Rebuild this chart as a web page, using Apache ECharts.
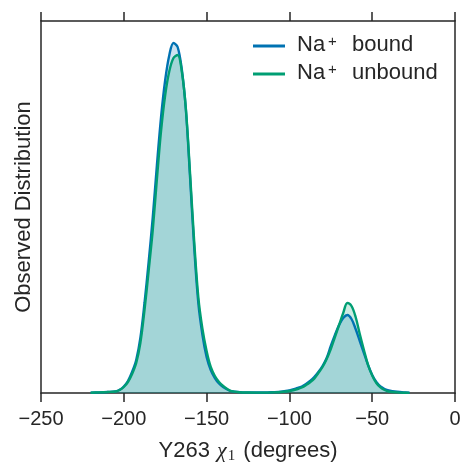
<!DOCTYPE html>
<html>
<head>
<meta charset="utf-8">
<script src="https://cdn.jsdelivr.net/npm/echarts@6/dist/echarts.min.js"></script>
<style>
  html, body { margin: 0; padding: 0; background: #ffffff; }
  #chart { width: 464px; height: 462px; }
</style>
</head>
<body>
<div id="chart"></div>
<script>
// Y263 chi1 dihedral angle (degrees) at which the kernel density is sampled
const angles = [
  -220, -215, -210, -205, -202.5, -200, -197.5, -195, -192.5, -190,
  -187.5, -185, -182.5, -180, -177.5, -175, -172.5, -170, -167.5, -165,
  -162.5, -160, -157.5, -155, -152.5, -150, -147.5, -145, -142.5, -140,
  -137.5, -135, -130, -125, -120, -115, -110, -105, -100, -95,
  -92.5, -90, -87.5, -85, -82.5, -80, -77.5, -75, -72.5, -70,
  -67.5, -65, -62.5, -60, -57.5, -55, -52.5, -50, -47.5, -45,
  -42.5, -40, -35, -30, -27.5
];

// Observed distribution (% of frames per degree), Na+ bound
const boundDensity = [
  0.003, 0.006, 0.010, 0.016, 0.032, 0.065, 0.12, 0.21, 0.33, 0.55,
  0.90, 1.31, 1.76, 2.28, 2.76, 3.13, 3.38, 3.50, 3.46, 3.24,
  2.83, 2.16, 1.46, 0.90, 0.58, 0.36, 0.23, 0.15, 0.095, 0.06,
  0.035, 0.018, 0.009, 0.006, 0.005, 0.005, 0.008, 0.013, 0.025, 0.05,
  0.065, 0.09, 0.12, 0.16, 0.21, 0.27, 0.35, 0.47, 0.58, 0.68,
  0.75, 0.78, 0.74, 0.64, 0.52, 0.40, 0.28, 0.18, 0.11, 0.065,
  0.04, 0.025, 0.012, 0.005, 0.003
];

// Observed distribution (% of frames per degree), Na+ unbound
const unboundDensity = [
  0.003, 0.006, 0.010, 0.015, 0.03, 0.06, 0.11, 0.19, 0.30, 0.50,
  0.83, 1.22, 1.63, 2.14, 2.62, 2.98, 3.22, 3.35, 3.38, 3.22,
  2.84, 2.20, 1.52, 0.96, 0.64, 0.42, 0.26, 0.17, 0.11, 0.07,
  0.04, 0.018, 0.008, 0.005, 0.004, 0.004, 0.006, 0.010, 0.02, 0.04,
  0.055, 0.079, 0.108, 0.144, 0.20, 0.26, 0.34, 0.44, 0.56, 0.68,
  0.80, 0.90, 0.87, 0.76, 0.59, 0.43, 0.28, 0.176, 0.10, 0.056,
  0.03, 0.015, 0.006, 0.002, 0.001
];

// x-axis tick values
const xTicks = [-250, -200, -150, -100, -50, 0];
const seriesNames = ['Na+ bound', 'Na+ unbound'];
const seriesColors = ['#0072B2', '#009E73'];
const yMax = 3.72;

const ink = '#262626';
const sans = 'Liberation Sans, Arial, sans-serif';
const serif = 'Liberation Serif, DejaVu Serif, serif';

function pairs(xs, ys) {
  return xs.map((x, i) => [x, ys[i]]);
}

function tickLabel(v) {
  return v < 0 ? '\u2212' + Math.abs(v) : String(v);
}

function kdeSeries(name, values, color) {
  return {
    name: name,
    type: 'line',
    data: pairs(angles, values),
    smooth: 0.35,
    showSymbol: false,
    symbol: 'none',
    itemStyle: { color: color },
    lineStyle: { color: color, width: 2.4 },
    areaStyle: { color: color, opacity: 0.2 },
    emphasis: { disabled: true },
    z: 2
  };
}

const xStep = xTicks[1] - xTicks[0];
const axisLineStyle = { color: ink, width: 1.5 };

const chart = echarts.init(document.getElementById('chart'), null, { renderer: 'canvas' });

chart.setOption({
  animation: false,
  backgroundColor: '#ffffff',
  grid: { left: 41, right: 9, top: 21, bottom: 69, containLabel: false, outerBoundsMode: 'none' },
  legend: {
    left: 253,
    top: 34,
    padding: 0,
    orient: 'vertical',
    icon: 'rect',
    itemWidth: 32,
    itemHeight: 3,
    itemGap: 6,
    data: seriesNames,
    formatter: function (name) {
      const rest = name.replace('Na+', '');
      return '{a|Na}{s|+}{n|' + rest + '}';
    },
    textStyle: {
      color: ink,
      fontFamily: sans,
      fontSize: 22,
      rich: {
        a: { fontFamily: sans, fontSize: 22, lineHeight: 24, color: ink, padding: [0, 0, 0, 7], verticalAlign: 'top' },
        s: { fontFamily: sans, fontSize: 15, lineHeight: 15, color: ink, padding: [0, 9, 0, 3], verticalAlign: 'top' },
        n: { fontFamily: sans, fontSize: 22, lineHeight: 24, color: ink, verticalAlign: 'top' }
      }
    }
  },
  xAxis: [
    {
      type: 'value',
      position: 'bottom',
      min: xTicks[0],
      max: xTicks[xTicks.length - 1],
      interval: xStep,
      name: '{t|Y263 }{c|\u03c7}{b|1}{t| (degrees)}',
      nameLocation: 'middle',
      nameGap: 40,
      nameTextStyle: {
        color: ink,
        fontFamily: sans,
        fontSize: 22,
        rich: {
          t: { fontFamily: sans, fontSize: 22, lineHeight: 24, color: ink, verticalAlign: 'top' },
          c: { fontFamily: serif, fontStyle: 'italic', fontSize: 22, lineHeight: 24, color: ink, verticalAlign: 'top', padding: [0, 1, 0, 1] },
          b: { fontFamily: serif, fontSize: 15, lineHeight: 15, color: ink, verticalAlign: 'bottom', padding: [15, 2, 0, 0] }
        }
      },
      axisLine: { show: true, onZero: false, lineStyle: axisLineStyle },
      axisTick: { show: true, inside: false, length: 9, lineStyle: axisLineStyle },
      axisLabel: {
        show: true,
        margin: 16,
        color: ink,
        fontFamily: sans,
        fontSize: 20,
        showMinLabel: true,
        showMaxLabel: true,
        formatter: tickLabel
      },
      splitLine: { show: false }
    },
    {
      type: 'value',
      position: 'top',
      min: xTicks[0],
      max: xTicks[xTicks.length - 1],
      interval: xStep,
      axisLine: { show: true, onZero: false, lineStyle: axisLineStyle },
      axisTick: { show: true, inside: false, length: 9, lineStyle: axisLineStyle },
      axisLabel: { show: false },
      splitLine: { show: false }
    }
  ],
  yAxis: [
    {
      type: 'value',
      position: 'left',
      min: 0,
      max: yMax,
      name: 'Observed Distribution',
      nameLocation: 'middle',
      nameGap: 6,
      nameTextStyle: { color: ink, fontFamily: sans, fontSize: 22 },
      axisLine: { show: true, onZero: false, lineStyle: axisLineStyle },
      axisTick: { show: false },
      axisLabel: { show: false },
      splitLine: { show: false }
    },
    {
      type: 'value',
      position: 'right',
      min: 0,
      max: yMax,
      axisLine: { show: true, onZero: false, lineStyle: axisLineStyle },
      axisTick: { show: false },
      axisLabel: { show: false },
      splitLine: { show: false }
    }
  ],
  series: [
    kdeSeries(seriesNames[0], boundDensity, seriesColors[0]),
    kdeSeries(seriesNames[1], unboundDensity, seriesColors[1])
  ]
});
</script>
</body>
</html>
